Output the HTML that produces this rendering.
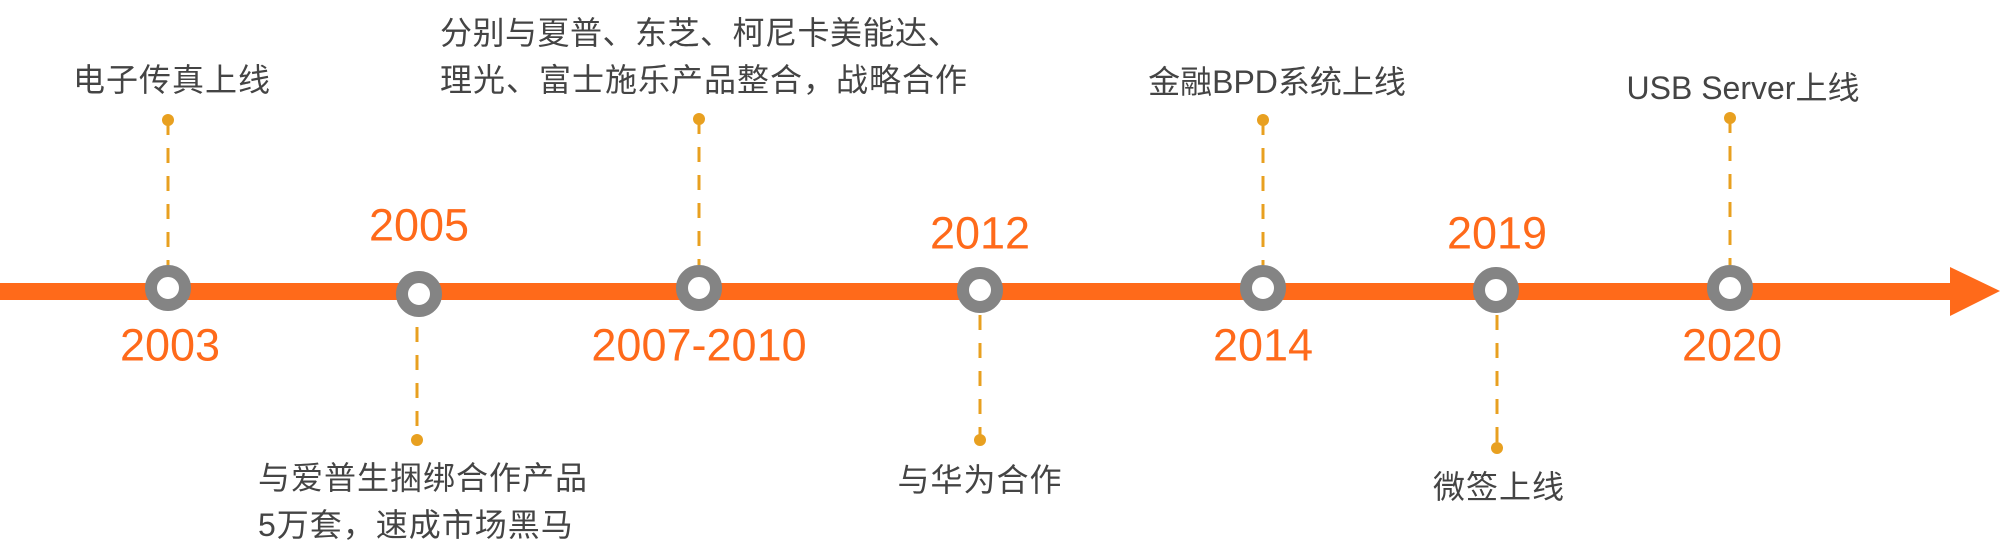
<!DOCTYPE html>
<html><head><meta charset="utf-8"><style>
html,body{margin:0;padding:0;background:#fff;}
body{width:2001px;height:554px;position:relative;overflow:hidden;font-family:"Liberation Sans","Noto Sans CJK SC",sans-serif;}
.t{position:absolute;color:#444;font-size:32px;line-height:1;white-space:nowrap;transform:translate(-50%,-50%);}
.l{position:absolute;color:#444;font-size:32px;line-height:1;white-space:nowrap;transform:translateY(-50%);}
.y{position:absolute;color:#ff6a1a;font-size:45px;line-height:1;white-space:nowrap;transform:translate(-50%,-50%);}
svg{position:absolute;left:0;top:0;}
</style></head><body>
<svg width="2001" height="554">
<g stroke="#e8a020" stroke-width="3" stroke-dasharray="15 13" fill="none">
<line x1="168" y1="120" x2="168" y2="265"/>
<line x1="699" y1="119" x2="699" y2="265"/>
<line x1="1263" y1="120" x2="1263" y2="265"/>
<line x1="1730" y1="118" x2="1730" y2="265"/>
<line x1="417" y1="327" x2="417" y2="440"/>
<line x1="980" y1="315" x2="980" y2="440"/>
<line x1="1497" y1="315" x2="1497" y2="448"/>
</g>
<g fill="#e8a020">
<circle cx="168" cy="120" r="6"/><circle cx="699" cy="119" r="6"/><circle cx="1263" cy="120" r="6"/><circle cx="1730" cy="118" r="6"/>
<circle cx="417" cy="440" r="6"/><circle cx="980" cy="440" r="6"/><circle cx="1497" cy="448" r="6"/>
</g>
<rect x="0" y="283" width="1952" height="17" fill="#ff6a1a"/>
<polygon points="1950,267 2000,291 1950,316" fill="#ff6a1a"/>
<g fill="#fff" stroke="#848484" stroke-width="12">
<circle cx="168" cy="288" r="17"/><circle cx="419" cy="294" r="17"/><circle cx="699" cy="288" r="17"/>
<circle cx="980" cy="290" r="17"/><circle cx="1263" cy="288" r="17"/><circle cx="1496" cy="290" r="17"/><circle cx="1730" cy="288" r="17"/>
</g>
</svg>
<div class="y" style="left:170px;top:345px">2003</div>
<div class="y" style="left:419px;top:225px">2005</div>
<div class="y" style="left:699px;top:345px">2007-2010</div>
<div class="y" style="left:980px;top:233px">2012</div>
<div class="y" style="left:1263px;top:345px">2014</div>
<div class="y" style="left:1497px;top:233px">2019</div>
<div class="y" style="left:1732px;top:345px">2020</div>

<div class="t" style="left:172px;top:80px;letter-spacing:1px">电子传真上线</div>
<div class="l" style="left:440px;top:33px;letter-spacing:0.5px">分别与夏普、东芝、柯尼卡美能达、</div>
<div class="l" style="left:440px;top:80px;letter-spacing:1px">理光、富士施乐产品整合，战略合作</div>
<div class="t" style="left:1277px;top:82px">金融BPD系统上线</div>
<div class="t" style="left:1743px;top:88px">USB Server上线</div>
<div class="l" style="left:258px;top:478px;letter-spacing:1px">与爱普生捆绑合作产品</div>
<div class="l" style="left:258px;top:525px;letter-spacing:1px">5万套，速成市场黑马</div>
<div class="t" style="left:980px;top:480px;letter-spacing:1px">与华为合作</div>
<div class="t" style="left:1499px;top:487px;letter-spacing:1px">微签上线</div>
</body></html>
